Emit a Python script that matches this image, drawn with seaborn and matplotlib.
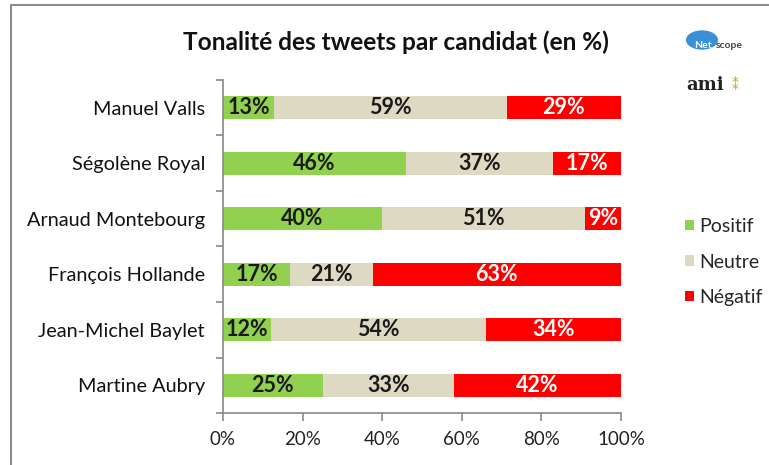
import matplotlib
matplotlib.use("Agg")
import matplotlib.pyplot as plt
import seaborn as sns
import pandas as pd
import numpy as np
from matplotlib.lines import Line2D
from matplotlib.patches import Patch, Circle

candidats = ["Manuel Valls", "Ségolène Royal", "Arnaud Montebourg",
             "François Hollande", "Jean-Michel Baylet", "Martine Aubry"]
positif = [13, 46, 40, 17, 12, 25]
neutre = [59, 37, 51, 21, 54, 33]
negatif = [29, 17, 9, 63, 34, 42]
series = ["Positif", "Neutre", "Négatif"]
colors = ["#92D050", "#DDD9C3", "#FF0000"]
xticks = [0, 20, 40, 60, 80, 100]
xticklabels = ["0%", "20%", "40%", "60%", "80%", "100%"]

sns.set_theme(style="white")
plt.rcParams["font.family"] = ["Lato", "DejaVu Sans"]

df = pd.DataFrame({"candidat": candidats, "Positif": positif,
                   "Neutre": neutre, "Négatif": negatif})
tot = df[series].sum(axis=1)
share = df[series].div(tot, axis=0) * 100
df["c1"] = share["Positif"]
df["c2"] = share["Positif"] + share["Neutre"]
df["c3"] = share.sum(axis=1)

fig = plt.figure(figsize=(7.69, 4.65), dpi=100)
ax = fig.add_axes([223 / 769, 1 - 413 / 465, 398 / 769, 333 / 465])

for col, c in zip(["c3", "c2", "c1"], colors[::-1]):
    sns.barplot(data=df, x=col, y="candidat", color=c, orient="h",
                width=0.41, ax=ax, saturation=1, edgecolor="none")

ax.set_xlim(0, 100)
ax.set_ylim(5.5, -0.5)
ax.set_xlabel("")
ax.set_ylabel("")
ax.set_xticks(xticks)
ax.set_xticklabels(xticklabels, fontsize=13.5, color="#222222")
ax.set_yticks(range(len(candidats)))
ax.set_yticklabels(candidats, fontsize=14.3, color="#111111")
ax.set_yticks(np.arange(-0.5, 6, 1), minor=True)
ax.tick_params(axis="y", which="major", length=0, pad=13)
ax.tick_params(axis="y", which="minor", length=5, color="#888888", width=1.2, left=True)
ax.tick_params(axis="x", length=6, color="#888888", width=1.2, bottom=True, direction="out", pad=7)
for s in ["top", "right"]:
    ax.spines[s].set_visible(False)
for s in ["left", "bottom"]:
    ax.spines[s].set_color("#888888")
    ax.spines[s].set_linewidth(1.2)

# value labels
for i in range(len(candidats)):
    starts = [0, df["c1"][i], df["c2"][i]]
    ends = [df["c1"][i], df["c2"][i], df["c3"][i]]
    vals = [positif[i], neutre[i], negatif[i]]
    for k in range(3):
        mid = (starts[k] + ends[k]) / 2
        ax.text(mid, i, f"{vals[k]}%", ha="center", va="center",
                fontsize=15.5, fontweight="bold",
                color="white" if k == 2 else "#1a1a1a")

fig.text(396 / 769, 1 - 42 / 465, "Tonalité des tweets par candidat (en %)",
         ha="center", va="center", fontsize=17.6, fontweight="bold", color="#111111")

# legend
handles = [Patch(facecolor=c, edgecolor="none") for c in colors]
fig.legend(handles, series, loc="center left", bbox_to_anchor=(685 / 769, 1 - 262 / 465),
           frameon=False, fontsize=14, handlelength=0.45, handleheight=0.45,
           labelspacing=0.95, handletextpad=0.3, borderpad=0, borderaxespad=0)

# frame
fig.add_artist(Line2D([11 / 769, 1], [1 - 5 / 465, 1 - 5 / 465], color="#8c8c8c", lw=1.5,
                      transform=fig.transFigure))
fig.add_artist(Line2D([11 / 769, 11 / 769], [0, 1 - 5 / 465], color="#8c8c8c", lw=1.5,
                      transform=fig.transFigure))

# logos (approximation)
fig.add_artist(Circle((702 / 769, 1 - 40 / 465), 16 / 769, transform=fig.transFigure,
                      facecolor="#3a8fd8", edgecolor="none"))
fig.text(703 / 769, 1 - 46 / 465, "Net", fontsize=7.5, fontweight="bold", color="white",
         ha="center", va="center")
fig.text(716 / 769, 1 - 46 / 465, "scope", fontsize=7.5, fontweight="bold", color="#444444",
         ha="left", va="center")
fig.text(705 / 769, 1 - 85 / 465, "ami", fontsize=13, fontweight="bold",
         family="DejaVu Serif", color="#222222", ha="center", va="center")
fig.text(735 / 769, 1 - 85 / 465, "⁑", fontsize=10, color="#c9a020", ha="center", va="center")

fig.savefig("out.png", dpi=100)
